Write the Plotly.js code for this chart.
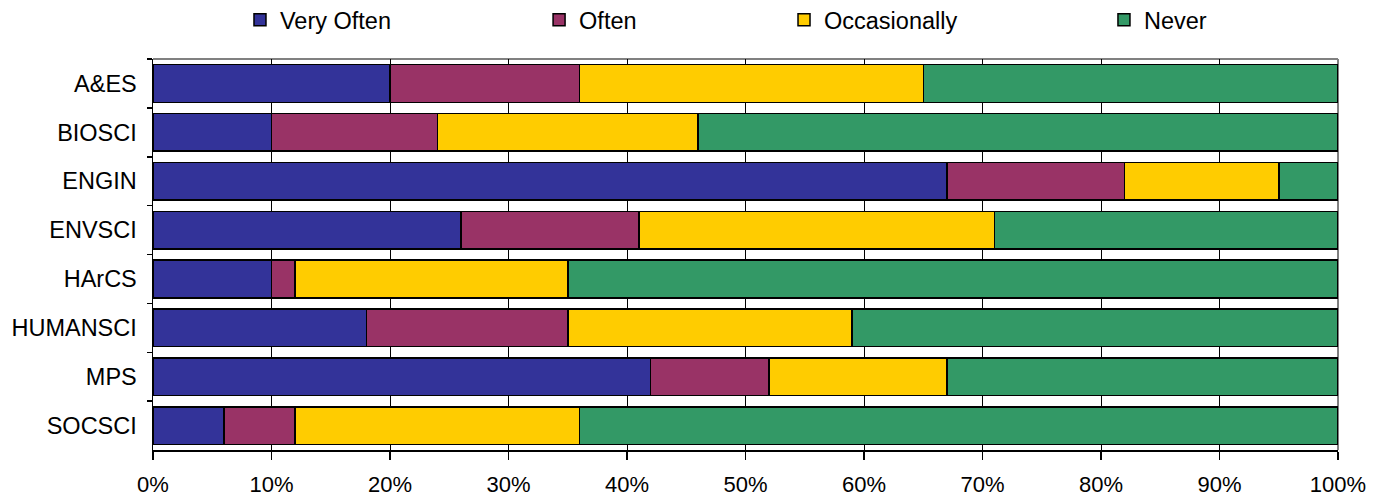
<!DOCTYPE html>
<html>
<head>
<meta charset="utf-8">
<script src="https://cdn.plot.ly/plotly-3.0.1.min.js"></script>
<style>
  html, body { margin: 0; padding: 0; background: #ffffff; }
  #chart { width: 1387px; height: 501px; }
</style>
</head>
<body>
<div id="chart"></div>
<script>
const categories = ["A&ES", "BIOSCI", "ENGIN", "ENVSCI", "HArCS", "HUMANSCI", "MPS", "SOCSCI"];
const veryOften    = [20, 10, 67, 26, 10, 18, 42, 6];
const often        = [16, 14, 15, 15, 2, 17, 10, 6];
const occasionally = [29, 22, 13, 30, 23, 24, 15, 24];
const never        = [35, 54, 5, 29, 65, 41, 33, 64];
const seriesNames  = ["Very Often", "Often", "Occasionally", "Never"];
const tickValues   = [0, 10, 20, 30, 40, 50, 60, 70, 80, 90, 100];
const tickLabels   = ["0%", "10%", "20%", "30%", "40%", "50%", "60%", "70%", "80%", "90%", "100%"];

const seriesData = [veryOften, often, occasionally, never];
const colors = ["#333399", "#993366", "#FFCC00", "#339966"];
const legendIds = ["legend", "legend2", "legend3", "legend4"];
const legendX = [0.0734, 0.3258, 0.5325, 0.8025];

const traces = seriesData.map((vals, i) => ({
  type: "bar",
  orientation: "h",
  name: seriesNames[i],
  y: categories,
  x: vals,
  legend: legendIds[i],
  marker: { color: colors[i], line: { color: "#000000", width: 1.5 } },
  hoverinfo: "x+y+name"
}));

const fontFamily = "Liberation Sans, Arial, sans-serif";
const legendBase = (x) => ({
  x: x, xanchor: "left", y: 1.1, yanchor: "middle",
  orientation: "h", bgcolor: "rgba(0,0,0,0)", borderwidth: 0,
  font: { family: fontFamily, size: 23.5, color: "#000000" },
  itemwidth: 30, traceorder: "normal"
});

const layout = {
  width: 1387, height: 501,
  margin: { l: 153, r: 49, t: 59, b: 51, autoexpand: false },
  paper_bgcolor: "#ffffff", plot_bgcolor: "#ffffff",
  barmode: "stack", bargap: 0.23,
  font: { family: fontFamily, size: 23, color: "#000000" },
  showlegend: true,
  legend: legendBase(legendX[0]),
  legend2: legendBase(legendX[1]),
  legend3: legendBase(legendX[2]),
  legend4: legendBase(legendX[3]),
  xaxis: {
    range: [0, 100], tickvals: tickValues, ticktext: tickLabels,
    showgrid: true, gridcolor: "#000000", gridwidth: 1,
    showline: true, linecolor: "#000000", linewidth: 1.5,
    ticks: "outside", ticklen: 8, tickwidth: 1.5, tickcolor: "#000000",
    tickfont: { family: fontFamily, size: 22, color: "#000000" },
    ticklabelstandoff: 6,
    zeroline: false, fixedrange: true, automargin: false
  },
  yaxis: {
    type: "category", autorange: "reversed",
    showgrid: false, showline: true, linecolor: "#000000", linewidth: 1.5,
    ticks: "outside", ticklen: 5, tickwidth: 1.5, tickcolor: "#000000",
    tickson: "boundaries",
    tickfont: { family: fontFamily, size: 23.5, color: "#000000" },
    ticklabelstandoff: 10,
    zeroline: false, fixedrange: true, automargin: false
  },
  shapes: [
    { type: "line", xref: "paper", yref: "paper", x0: 0, x1: 1, y0: 1, y1: 1,
      line: { color: "#808080", width: 2 }, layer: "below" },
    { type: "line", xref: "paper", yref: "paper", x0: 1, x1: 1, y0: 0, y1: 1,
      line: { color: "#808080", width: 2 }, layer: "below" }
  ]
};

Plotly.newPlot("chart", traces, layout, { displayModeBar: false, staticPlot: true });
</script>
</body>
</html>
